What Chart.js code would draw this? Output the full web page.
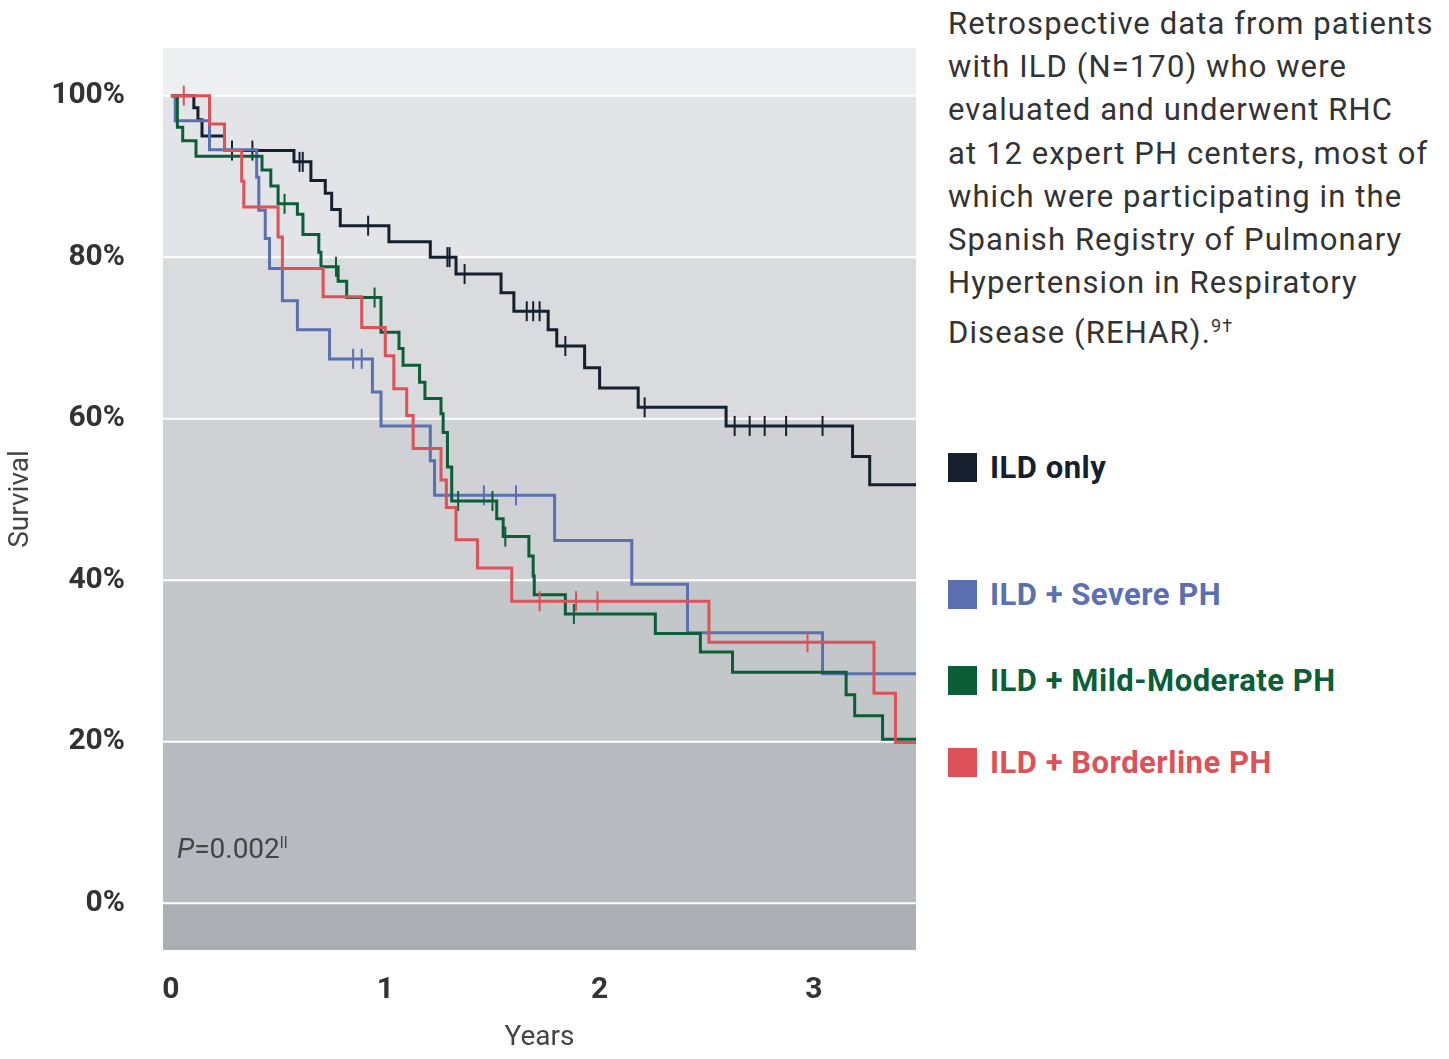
<!DOCTYPE html>
<html><head><meta charset="utf-8">
<script src="https://cdn.jsdelivr.net/npm/chart.js@4"></script>
<style>
body{margin:0;background:#fff;font-family:Roboto,"Noto Sans",sans-serif;}
#wrap{position:relative;width:1449px;height:1059px;}
#c{position:absolute;left:0;top:0;}
.txt{position:absolute;left:948px;top:2px;white-space:nowrap;font-size:31px;line-height:43.2px;color:#333;letter-spacing:1.1px;}
.leg{position:absolute;left:948px;font-size:31px;font-weight:bold;display:flex;align-items:center;letter-spacing:0.5px;}
.leg span{display:inline-block;width:29px;height:29px;margin-right:13px;}
#p{position:absolute;left:177px;top:832px;font-size:28px;color:#444;}
</style></head><body>
<div id="wrap">
<canvas id="c" width="916" height="1059"></canvas>
<div class="txt">Retrospective data from patients<br>with ILD (N=170) who were<br>evaluated and underwent RHC<br>at 12 expert PH centers, most of<br>which were participating in the<br>Spanish Registry of Pulmonary<br>Hypertension in Respiratory<br>Disease (REHAR).<sup style="font-size:18px">9†</sup></div>
<div class="leg" style="top:449px;color:#14202e"><span style="background:#14202e"></span>ILD only</div>
<div class="leg" style="top:576px;color:#5a70b0"><span style="background:#5a70b0"></span>ILD + Severe PH</div>
<div class="leg" style="top:662px;color:#0b5e37"><span style="background:#0b5e37"></span>ILD + Mild-Moderate PH</div>
<div class="leg" style="top:744px;color:#dd5158"><span style="background:#dd5158"></span>ILD + Borderline PH</div>
<div id="p"><i>P</i>=0.002<sup style="font-size:16px">ll</sup></div>
</div>
<script>
const yTicks=[0,20,40,60,80,100];
const xTicks=[0,1,2,3];
const ildT=[0,0.107,0.126,0.145,0.25,0.574,0.653,0.72,0.75,0.79,1.017,1.21,1.33,1.54,1.6,1.76,1.80,1.93,2.0,2.18,2.59,3.18,3.26,3.48];
const ildS=[100,98.5,97,95,93.2,91.8,89.5,87.9,85.9,83.9,81.9,80,77.9,75.6,73.3,71,69,66.3,63.8,61.4,59.1,55.3,51.8,51.8];
const ildC=[0.285,0.38,0.6,0.615,0.92,1.29,1.3,1.37,1.66,1.69,1.72,1.84,2.21,2.63,2.70,2.77,2.87,3.04];
const sevT=[0,0.02,0.18,0.40,0.41,0.44,0.46,0.52,0.59,0.74,0.94,0.98,1.21,1.23,1.79,2.15,2.41,3.04,3.48];
const sevS=[100,96.9,93.3,89.9,85.8,82.3,78.6,74.6,71,67.4,63.3,59.1,54.8,50.5,44.9,39.5,33.5,28.4,28.4];
const sevC=[0.85,0.89,1.46,1.61];
const midT=[0,0.03,0.055,0.117,0.425,0.466,0.5,0.59,0.616,0.69,0.70,0.78,0.82,0.98,1.064,1.083,1.16,1.185,1.26,1.27,1.29,1.31,1.52,1.55,1.67,1.69,1.695,1.84,2.26,2.47,2.62,3.15,3.19,3.32,3.48];
const midS=[100,96.1,94.4,92.5,90.8,88.8,86.6,85.3,82.8,80.6,78.8,77,75,70.7,68.7,66.6,64.5,62.5,60.6,58.3,54,49.8,47.6,45.4,43,40.5,38.2,35.8,33.4,31.1,28.6,25.8,23.2,20.3,20.3];
const midC=[0.53,0.77,0.95,1.34,1.5,1.56,1.88];
const borT=[0,0.18,0.25,0.33,0.34,0.5,0.52,0.71,0.89,1.0,1.04,1.10,1.13,1.26,1.285,1.33,1.43,1.59,2.51,3.28,3.38,3.48];
const borS=[100,96.5,93.2,89.4,86.2,82.5,78.6,75.1,71.3,67.8,63.7,60.4,56.3,52.4,49,45,41.5,37.4,32.3,26,19.9,19.9];
const borC=[0.06,1.72,1.89,1.99,2.97];
const bands=[[100,200,'#eeeff1'],[80,100,'#e3e4e7'],[60,80,'#d9dbde'],[40,60,'#cfd1d4'],[20,40,'#c4c7ca'],[0,20,'#b7babe'],[-20,0,'#abaeb2']];

function pts(T,S){return T.map((t,i)=>({x:t,y:S[i]}));}
function sAt(T,S,t){let v=S[0];for(let i=0;i<T.length;i++){if(T[i]<=t)v=S[i];}return v;}
function cens(T,S,C){return C.map(t=>({x:t,y:sAt(T,S,t)}));}
const series=[['#14202e',ildT,ildS,ildC],['#5a70b0',sevT,sevS,sevC],['#0b5e37',midT,midS,midC],['#dd5158',borT,borS,borC]];
const ds=[];
series.slice().reverse().forEach(([col,T,S,C])=>{
 ds.push({type:'line',data:pts(T,S),borderColor:col,borderWidth:3,stepped:'before',pointRadius:0,fill:false});
 ds.push({type:'scatter',data:cens(T,S,C),borderColor:col,backgroundColor:col,pointStyle:'line',rotation:90,radius:10,borderWidth:2});
});
const bg={id:'bg',beforeDraw(ch){const {ctx,chartArea:a,scales:{y}}=ch;ctx.save();
 bands.forEach(([lo,hi,c])=>{const t=Math.max(a.top,y.getPixelForValue(hi)),b=Math.min(a.bottom,y.getPixelForValue(lo));ctx.fillStyle=c;ctx.fillRect(a.left,t,a.right-a.left,b-t);});
 ctx.strokeStyle='#fff';ctx.lineWidth=2;yTicks.forEach(v=>{const p=y.getPixelForValue(v);ctx.beginPath();ctx.moveTo(a.left,p);ctx.lineTo(a.right,p);ctx.stroke();});ctx.restore();}};
new Chart(document.getElementById('c'),{type:'line',data:{datasets:ds},plugins:[bg],
options:{responsive:false,animation:false,layout:{padding:0,autoPadding:false},plugins:{legend:{display:false},tooltip:{enabled:false}},
scales:{
 x:{type:'linear',min:-0.037,max:3.476,afterFit(s){s.height=109;},afterBuildTicks(s){s.ticks=xTicks.map(v=>({value:v}));},
  grid:{display:false},border:{display:false},ticks:{color:'#333',font:{family:'Roboto',size:30,weight:'bold'},padding:14},
  title:{display:true,text:'Years',color:'#444',font:{family:'Roboto',size:28},padding:{top:10}}},
 y:{min:-5.8,max:105.9,afterFit(s){s.width=163;},afterBuildTicks(s){s.ticks=yTicks.map(v=>({value:v}));},
  grid:{display:false},border:{display:false},ticks:{color:'#333',font:{family:'Roboto',size:30,weight:'bold'},padding:30,callback:v=>v+'%'},
  title:{display:true,text:'Survival',color:'#444',font:{family:'Roboto',size:28},padding:{bottom:6}}}
}}});
</script></body></html>
